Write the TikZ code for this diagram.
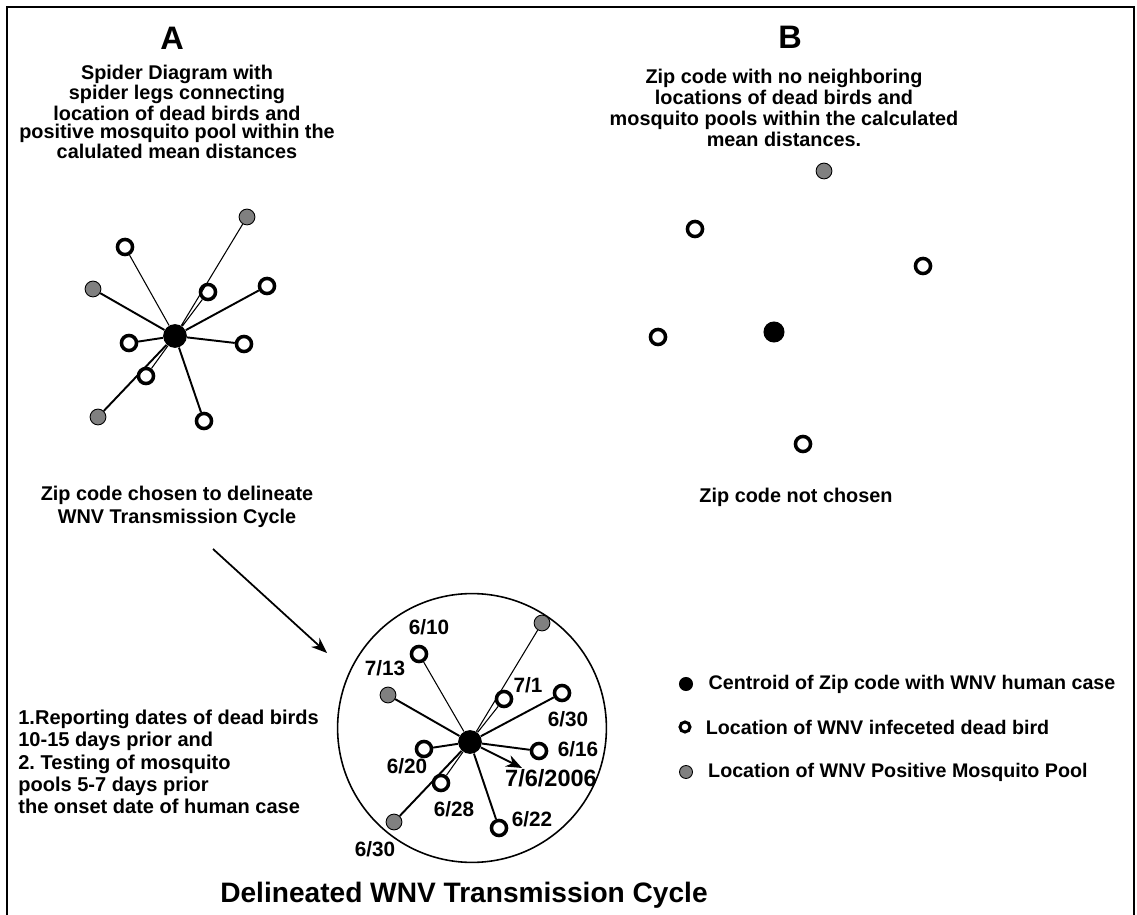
\documentclass[tikz,border=0pt]{standalone}
\usepackage{fontspec}
\setmainfont{Liberation Sans}
\usetikzlibrary{arrows.meta,positioning}
\frenchspacing

\begin{document}
\begin{tikzpicture}[x=0.02cm,y=-0.02cm,node distance=8.5pt]
    \tikzset{
      centroid/.style={circle,fill=black,inner sep=0pt,minimum size=13.5pt},
      bird/.style={circle,draw=black,line width=2pt,fill=white,inner sep=0pt,minimum size=8.6pt},
      pool/.style={circle,draw=black,line width=0.5pt,fill=gray,inner sep=0pt,minimum size=9pt},
      leg/.style={line width=1.1pt},
      thinleg/.style={line width=0.6pt},
      datelbl/.style={font=\bfseries\fontsize{11.8}{12}\selectfont,inner sep=0pt},
      blurb/.style={font=\bfseries\fontsize{11.3}{10.4}\selectfont,align=center,inner sep=0pt},
      heading/.style={font=\bfseries\fontsize{18.5}{20}\selectfont,inner sep=0pt},
      legtext/.style={font=\bfseries\fontsize{11.2}{12}\selectfont,inner sep=0pt,anchor=west}
    }
    \useasboundingbox (0,0) rectangle (1137,915);
    \clip (0,0) rectangle (1137,915);
    \draw[line width=1.2pt] (7,920) |- (1134,7) -- (1134,920);

    % A: spider diagram
    \node[heading] (titleA) at (172,38) {A};
    \node[blurb] (textA) at (177,112) {Spider Diagram with\\spider legs connecting\\location of dead birds and\\positive mosquito pool within the\\calulated mean distances};
    \node[centroid] (c1) at (175,336) {};
    \node[pool] (pA1) at (247,217) {};
    \node[bird] (bA1) at (125,247) {};
    \node[pool] (pA2) at (93,289) {};
    \node[bird] (bA2) at (208,292) {};
    \node[bird] (bA3) at (267,286) {};
    \node[bird] (bA4) at (129,343) {};
    \node[bird] (bA5) at (244,344) {};
    \node[bird] (bA6) at (146,376) {};
    \node[pool] (pA3) at (98,417) {};
    \node[bird] (bA7) at (204,421) {};
    \draw[thinleg] (c1) -- (pA1) (c1) -- (bA1) (c1) -- (bA2) (c1) -- (bA6);
    \draw[leg] (c1) -- (pA2) (c1) -- (bA3) (c1) -- (bA4) (c1) -- (bA5) (c1) -- (pA3) (c1) -- (bA7);
    \node[blurb,font=\bfseries\fontsize{11.3}{13}\selectfont] (chosen) at (177,507) {Zip code chosen to delineate\\WNV Transmission Cycle};

    % B: no neighbours
    \node[heading] (titleB) at (790,37) {B};
    \node[blurb,font=\bfseries\fontsize{11.3}{11.9}\selectfont] (textB) at (784,108) {Zip code with no neighboring\\locations of dead birds and\\mosquito pools within the calculated\\mean distances.};
    \node[centroid,minimum size=12pt] (c3) at (774,332) {};
    \node[pool] (pB1) at (824,171) {};
    \node[bird] (bB1) at (695,229) {};
    \node[bird] (bB2) at (923,266) {};
    \node[bird] (bB3) at (658,337) {};
    \node[bird] (bB4) at (803,444) {};
    \node[blurb] (notchosen) at (796,497) {Zip code not chosen};

    % delineated cycle
    \coordinate (arrtail) at (213,549);
    \coordinate (arrhead) at (327,653);
    \draw[line width=1pt,-{Stealth[length=9pt,width=7pt]}] (arrtail) -- (arrhead);
    \node[circle,draw,line width=0.9pt,minimum size=153pt] (cycle) at (472,728) {};
    \node[centroid] (c2) at (470,742) {};
    \node[pool] (pC1) at (542,623) {};
    \node[bird] (bC1) at (419,654) {};
    \node[pool] (pC2) at (388,695) {};
    \node[bird] (bC2) at (504,699) {};
    \node[bird] (bC3) at (562,693) {};
    \node[bird] (bC4) at (424,749) {};
    \node[bird] (bC5) at (539,751) {};
    \node[bird] (bC6) at (441,783) {};
    \node[pool] (pC3) at (394,822) {};
    \node[bird] (bC7) at (499,828) {};
    \coordinate (onset) at (522,768);
    \draw[thinleg] (c2) -- (pC1) (c2) -- (bC1) (c2) -- (bC2) (c2) -- (bC6);
    \draw[leg] (c2) -- (pC2) (c2) -- (bC3) (c2) -- (bC4) (c2) -- (bC5) (c2) -- (pC3) (c2) -- (bC7);
    \draw[leg,-{Stealth[length=9pt,width=7pt]}] (c2) -- (onset);
    \node[datelbl] at (429,627) {6/10};
    \node[datelbl] at (385,668) {7/13};
    \node[datelbl] at (528,685) {7/1};
    \node[datelbl] at (568,719) {6/30};
    \node[datelbl] at (407,766) {6/20};
    \node[datelbl] at (578,749) {6/16};
    \node[datelbl] at (454,809) {6/28};
    \node[datelbl] at (375,849) {6/30};
    \node[datelbl] at (532,819) {6/22};
    \node[datelbl,font=\bfseries\fontsize{13.4}{14}\selectfont] (onsetdate) at (551,778) {7/6/2006};
    \node[blurb,align=left,anchor=west,font=\bfseries\fontsize{11.4}{12.75}\selectfont] (steps) at (18,762) {1.Reporting dates of dead birds\\10-15 days prior and\\2. Testing of mosquito\\pools 5-7 days prior\\the onset date of human case};
    \node[heading,font=\bfseries\fontsize{16}{18}\selectfont] (cycletitle) at (464,895) {Delineated WNV Transmission Cycle};

    % legend
    \node[centroid,minimum size=8pt] (lc) at (686,684) {};
    \node[bird,minimum size=5.7pt,line width=1.7pt] (lb) at (685,727) {};
    \node[pool,minimum size=7.4pt] (lp) at (686,772) {};
    \node[legtext,right=of lc] {Centroid of Zip code with WNV human case};
    \node[legtext,right=8pt of lb] {Location of WNV infeceted dead bird};
    \node[legtext,right=of lp] {Location of WNV Positive Mosquito Pool};
  \end{tikzpicture}
\end{document}
